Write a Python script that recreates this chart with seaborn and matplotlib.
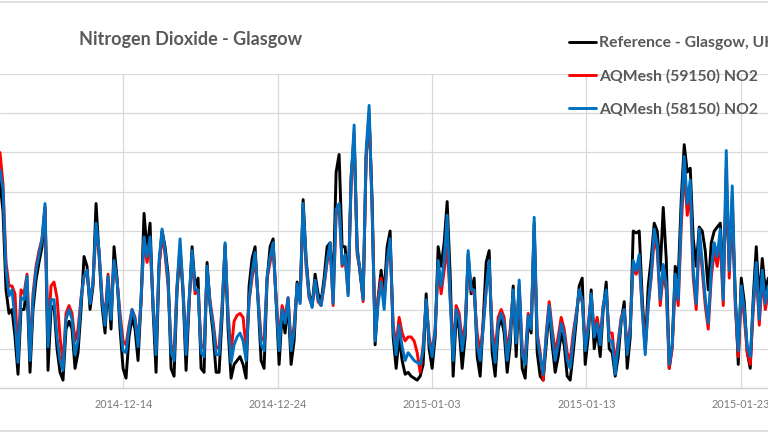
import matplotlib
matplotlib.use("Agg")
import matplotlib.pyplot as plt
import seaborn as sns
import pandas as pd
from matplotlib.lines import Line2D

# NO2 readings (ug/m3), one every ~280 minutes from 2014-12-06
reference = [105, 90, 50, 38, 40, 26, 7, 40, 40, 52, 8, 40, 55, 64, 72, 92, 9, 40, 42, 20, 8, 4, 30, 34, 30, 10, 18, 40, 67, 62, 40, 52, 94, 68, 42, 28, 55,
             30, 72, 56, 30, 10, 5, 26, 36, 30, 14, 44, 89, 70, 84, 40, 8, 62, 80, 72, 58, 10, 6, 50, 70, 48, 9, 42, 72, 52, 56, 10, 8, 64, 42, 28, 8, 8,
             36, 73, 30, 5, 12, 14, 16, 12, 5, 52, 66, 72, 44, 14, 10, 55, 72, 76, 44, 12, 38, 28, 44, 12, 24, 54, 46, 96, 66, 48, 42, 58, 48, 44, 56, 72,
             74, 50, 110, 119, 72, 72, 50, 108, 128, 72, 58, 46, 118, 138, 96, 22, 46, 60, 48, 72, 80, 26, 10, 26, 14, 7, 8, 6, 5, 4, 6, 12, 48, 20, 10, 26, 72,
             62, 74, 95, 58, 6, 36, 30, 10, 26, 68, 48, 56, 16, 6, 34, 64, 70, 18, 6, 30, 36, 28, 8, 22, 52, 16, 52, 10, 5, 34, 28, 84, 18, 6, 4, 22, 40,
             22, 8, 16, 28, 22, 6, 4, 18, 34, 52, 56, 12, 26, 50, 20, 30, 16, 40, 54, 20, 18, 6, 16, 34, 44, 10, 26, 80, 79, 80, 46, 20, 52, 66, 84, 80,
             60, 92, 66, 10, 22, 62, 56, 96, 124, 110, 112, 76, 62, 82, 80, 70, 50, 74, 80, 82, 84, 56, 100, 64, 90, 48, 12, 56, 44, 18, 10, 46, 72, 44, 66, 50, 56]

mesh_59150 = [120, 104, 64, 52, 52, 48, 16, 50, 48, 58, 18, 48, 62, 70, 76, 92, 25, 52, 54, 46, 26, 12, 38, 42, 38, 24, 30, 46, 57, 58, 44, 54, 80, 70, 46, 36, 58,
              38, 64, 55, 38, 24, 22, 32, 40, 36, 24, 44, 76, 64, 74, 42, 20, 62, 78, 68, 52, 22, 18, 52, 72, 50, 20, 44, 66, 48, 50, 22, 20, 60, 44, 34, 21, 20,
              42, 72, 38, 18, 34, 37, 38, 36, 20, 44, 56, 66, 46, 26, 24, 56, 64, 72, 46, 24, 42, 36, 46, 22, 32, 52, 44, 90, 62, 46, 42, 54, 44, 42, 52, 64,
              72, 42, 88, 92, 62, 66, 48, 104, 130, 68, 60, 44, 118, 140, 90, 28, 46, 56, 44, 64, 74, 32, 22, 36, 28, 24, 26, 26, 24, 18, 8, 22, 44, 26, 18, 30, 62,
              48, 60, 72, 46, 20, 42, 38, 24, 32, 66, 50, 48, 28, 18, 32, 50, 62, 30, 18, 36, 40, 36, 18, 30, 48, 26, 52, 20, 16, 38, 32, 80, 28, 18, 4, 28, 44,
              30, 18, 26, 36, 30, 18, 14, 28, 38, 48, 44, 22, 32, 46, 30, 36, 26, 42, 48, 28, 28, 12, 24, 36, 40, 20, 32, 62, 58, 64, 40, 20, 42, 56, 76, 70,
              42, 58, 50, 10, 20, 54, 42, 82, 112, 88, 100, 56, 40, 76, 60, 42, 30, 56, 70, 62, 76, 42, 112, 56, 98, 42, 16, 48, 36, 18, 12, 40, 60, 32, 56, 40, 48]

mesh_58150 = [111, 101, 60, 47, 50, 35, 13, 46, 45, 57, 14, 45, 60, 68, 76, 94, 21, 45, 45, 26, 14, 9, 35, 40, 35, 17, 24, 45, 57, 60, 43, 54, 84, 70, 45, 32, 57,
              35, 65, 55, 35, 19, 18, 30, 40, 35, 21, 45, 77, 67, 77, 43, 17, 65, 81, 70, 55, 18, 14, 52, 76, 50, 17, 45, 70, 50, 50, 18, 16, 62, 43, 32, 17, 17,
              40, 74, 35, 13, 22, 26, 28, 24, 14, 45, 59, 69, 45, 22, 19, 57, 67, 74, 45, 19, 40, 33, 46, 19, 29, 53, 43, 94, 64, 47, 41, 55, 45, 42, 53, 65,
              74, 43, 91, 94, 63, 68, 47, 106, 134, 70, 60, 45, 121, 144, 91, 24, 43, 54, 40, 65, 76, 30, 17, 32, 21, 14, 18, 16, 14, 13, 12, 19, 45, 24, 16, 30, 65,
              52, 65, 88, 45, 14, 40, 35, 19, 30, 70, 50, 50, 22, 14, 30, 50, 65, 26, 13, 33, 38, 33, 14, 26, 50, 23, 55, 17, 12, 37, 30, 87, 26, 16, 7, 26, 42,
              27, 14, 22, 33, 27, 14, 10, 24, 37, 50, 45, 19, 30, 48, 26, 33, 22, 42, 50, 24, 24, 7, 22, 35, 40, 17, 30, 65, 60, 68, 40, 17, 42, 58, 81, 73,
              45, 63, 53, 12, 22, 58, 45, 88, 118, 94, 106, 60, 43, 81, 64, 46, 33, 60, 74, 67, 81, 45, 121, 60, 103, 45, 19, 52, 40, 21, 16, 43, 64, 35, 60, 43, 52]

series_names = ["Reference - Glasgow, UK", "AQMesh (59150) NO2", "AQMesh (58150) NO2"]
series_colors = ["#000000", "#ff0000", "#0070c0"]
tick_dates = ["2014-12-14", "2014-12-24", "2015-01-03", "2015-01-13", "2015-01-23"]

times = pd.date_range("2014-12-06 00:15", periods=len(mesh_58150), freq="280min")

sns.set_theme(style="white")
plt.rcParams["font.family"] = ["Lato", "DejaVu Sans"]

fig = plt.figure(figsize=(7.68, 4.32), dpi=100)
ax = fig.add_axes([0.0, 44 / 432, 1.0, 314 / 432])

for name, values, color in zip(series_names, [reference, mesh_59150, mesh_58150], series_colors):
    sns.lineplot(x=times, y=values, color=color, linewidth=2.1, label=name, ax=ax)

ax.set_xlim(pd.Timestamp("2014-12-06 00:15"), pd.Timestamp("2015-01-24 18:30"))
ax.set_ylim(0, 160)
ax.set_yticks(range(0, 161, 20))
ax.set_yticklabels([])
ax.set_xticks(pd.to_datetime(tick_dates))
ax.set_xticklabels(tick_dates, color="#7a7a7a", fontsize=7.8)
ax.tick_params(axis="both", length=0, pad=8)
ax.grid(True, color="#d9d9d9", linewidth=0.9)
ax.set_axisbelow(True)
for side in ["top", "left", "right"]:
    ax.spines[side].set_visible(False)
ax.spines["bottom"].set_color("#d0d0d0")
ax.spines["bottom"].set_linewidth(1.0)
ax.set_xlabel("")
ax.set_ylabel("")

ax.legend(loc="upper left", bbox_to_anchor=(569 / 768, 1 - 36 / 432), bbox_transform=fig.transFigure,
          frameon=False, handlelength=1.7, handletextpad=0.2, labelspacing=1.2,
          prop={"weight": "bold", "size": 11.3}, labelcolor="#595959", borderaxespad=0, borderpad=0)

fig.text(191 / 768, 1 - 40 / 432, "Nitrogen Dioxide - Glasgow", ha="center", va="center",
         fontsize=13, fontweight="bold", color="#595959")

# chart frame edges visible at top and bottom of the crop
fig.add_artist(Line2D([0, 1], [1 - 1.5 / 432, 1 - 1.5 / 432], transform=fig.transFigure, color="#d9d9d9", linewidth=1.2))
fig.add_artist(Line2D([0, 1], [1.5 / 432, 1.5 / 432], transform=fig.transFigure, color="#d9d9d9", linewidth=1.2))

fig.savefig("out.png", dpi=100)
